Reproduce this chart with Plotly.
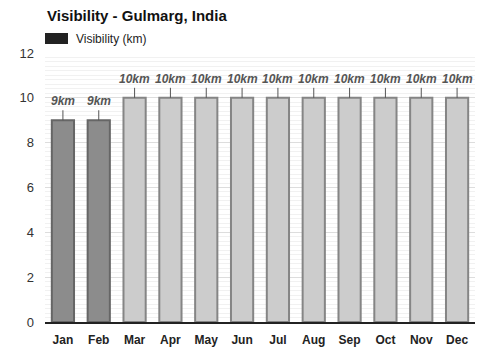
import plotly.graph_objects as go

months = ["Jan", "Feb", "Mar", "Apr", "May", "Jun", "Jul", "Aug", "Sep", "Oct", "Nov", "Dec"]
visibility = [9, 9, 10, 10, 10, 10, 10, 10, 10, 10, 10, 10]
labels = [f"{v}km" for v in visibility]
y_ticks = [0, 2, 4, 6, 8, 10, 12]

vmax = max(visibility)
fill = ["#8c8c8c" if v < vmax else "#cccccc" for v in visibility]
edge = ["#666666" if v < vmax else "#858585" for v in visibility]

FONT = "Liberation Sans, Arial, sans-serif"

fig = go.Figure()
fig.add_trace(go.Bar(
    x=months, y=visibility, width=0.62,
    marker=dict(color=fill, line=dict(color=edge, width=2)),
    showlegend=False, hoverinfo="skip",
))

for m, v, t in zip(months, visibility, labels):
    fig.add_annotation(
        x=m, y=v, text=f"<b><i>{t}</i></b>", showarrow=True, arrowhead=0,
        arrowwidth=1, arrowcolor="#555555", ax=0, ay=-10, yanchor="bottom",
        font=dict(family=FONT, size=12, color="#555555"),
    )

# title
fig.add_annotation(
    xref="paper", yref="paper", x=0, y=1, xanchor="left", yanchor="bottom",
    yshift=27, text="<b>Visibility - Gulmarg, India</b>", showarrow=False,
    font=dict(family=FONT, size=15, color="#111111"),
)
# legend
fig.add_shape(type="rect", xref="paper", yref="paper", x0=0, x1=23 / 430,
              y0=1 + 9 / 269, y1=1 + 20 / 269, fillcolor="#222222", line=dict(width=0))
fig.add_annotation(
    xref="paper", yref="paper", x=29 / 430, y=1 + 14.5 / 269, xanchor="left", yanchor="middle",
    text="Visibility (km)", showarrow=False,
    font=dict(family=FONT, size=12, color="#222222"),
)

fig.update_layout(
    width=500, height=350,
    margin=dict(l=45, r=25, t=53, b=28, autoexpand=False),
    paper_bgcolor="white", plot_bgcolor="white",
    bargap=0.38,
    font=dict(family=FONT, color="#333333"),
)
fig.update_xaxes(
    showgrid=False, showline=True, linecolor="#222222", linewidth=1.5,
    tickfont=dict(family=FONT, size=12, color="#222222"),
    ticks="", tickprefix="<b>", ticksuffix="</b>", ticklabelstandoff=6,
    automargin=False,
)
fig.update_yaxes(
    range=[0, 12], tickvals=y_ticks, showgrid=True, gridcolor="#dddddd",
    zeroline=False, showline=False, tickfont=dict(family=FONT, size=13, color="#333333"),
    ticks="", ticklen=0, ticklabelstandoff=10, automargin=False,
    minor=dict(dtick=0.2, showgrid=True, gridcolor="#f1f1f1"),
)

fig.write_html("out.html")
